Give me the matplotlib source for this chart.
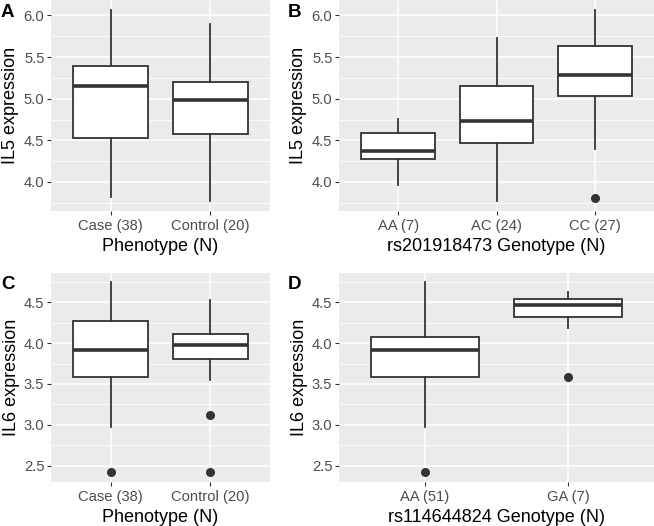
import matplotlib
matplotlib.use("Agg")
import matplotlib.pyplot as plt
from matplotlib.ticker import MultipleLocator

plt.rcParams['font.family'] = ['Liberation Sans', 'DejaVu Sans']

# panel A: IL5 by phenotype
a_groups = ["Case (38)", "Control (20)"]
a_whislo = [3.82, 3.77]
a_q1 = [4.53, 4.57]
a_med = [5.15, 4.99]
a_q3 = [5.39, 5.20]
a_whishi = [6.07, 5.90]
a_fliers = [[], []]

# panel B: IL5 by rs201918473 genotype
b_groups = ["AA (7)", "AC (24)", "CC (27)"]
b_whislo = [3.96, 3.77, 4.40]
b_q1 = [4.28, 4.465, 5.03]
b_med = [4.37, 4.735, 5.28]
b_q3 = [4.59, 5.15, 5.635]
b_whishi = [4.76, 5.73, 6.07]
b_fliers = [[], [], [3.81]]

# panel C: IL6 by phenotype
c_groups = ["Case (38)", "Control (20)"]
c_whislo = [2.975, 3.545]
c_q1 = [3.59, 3.80]
c_med = [3.915, 3.975]
c_q3 = [4.27, 4.11]
c_whishi = [4.745, 4.53]
c_fliers = [[2.42], [3.12, 2.42]]

# panel D: IL6 by rs114644824 genotype
d_groups = ["AA (51)", "GA (7)"]
d_whislo = [2.975, 4.18]
d_q1 = [3.59, 4.325]
d_med = [3.915, 4.47]
d_q3 = [4.075, 4.54]
d_whishi = [4.745, 4.63]
d_fliers = [[2.42], [3.59]]

panels = [
    ("A", a_groups, a_whislo, a_q1, a_med, a_q3, a_whishi, a_fliers, "IL5 expression", "Phenotype (N)"),
    ("B", b_groups, b_whislo, b_q1, b_med, b_q3, b_whishi, b_fliers, "IL5 expression", "rs201918473 Genotype (N)"),
    ("C", c_groups, c_whislo, c_q1, c_med, c_q3, c_whishi, c_fliers, "IL6 expression", "Phenotype (N)"),
    ("D", d_groups, d_whislo, d_q1, d_med, d_q3, d_whishi, d_fliers, "IL6 expression", "rs114644824 Genotype (N)"),
]

W, H = 654, 526
fig = plt.figure(figsize=(W / 100, H / 100), dpi=100)

# axes boxes in pixels: left, top, right, bottom
boxes = [(51, 0, 270, 210.7), (339, 0, 654, 210.7),
         (51, 272.7, 270, 481.7), (339, 272.7, 654, 481.7)]
label_pos = [(1, 4), (288, 4), (1, 276), (288, 276)]

dark = "#333333"

for (lab, groups, lo, q1, med, q3, hi, fl, ylab, xlab), (l, t, r, b), (lx, ly) in zip(panels, boxes, label_pos):
    ax = fig.add_axes([l / W, 1 - b / H, (r - l) / W, (b - t) / H])
    stats = []
    for i in range(len(groups)):
        stats.append(dict(whislo=lo[i], q1=q1[i], med=med[i], q3=q3[i], whishi=hi[i], fliers=fl[i]))
    pos = list(range(1, len(groups) + 1))
    ax.bxp(stats, positions=pos, widths=0.75, patch_artist=True, showcaps=False,
           boxprops=dict(facecolor="white", edgecolor=dark, linewidth=1.3),
           medianprops=dict(color=dark, linewidth=2.6, solid_capstyle="butt"),
           whiskerprops=dict(color=dark, linewidth=1.3),
           flierprops=dict(marker="o", markerfacecolor=dark, markeredgecolor=dark, markersize=5.5),
           zorder=3)
    ax.margins(y=0.05)
    ax.set_xlim(0.4, len(groups) + 0.6)
    ax.set_xticks(pos)
    ax.set_xticklabels(groups)
    ax.yaxis.set_major_locator(MultipleLocator(0.5))
    ax.yaxis.set_minor_locator(MultipleLocator(0.25))
    ax.yaxis.set_major_formatter(plt.FormatStrFormatter("%.1f"))
    ax.set_facecolor("#EBEBEB")
    for s in ax.spines.values():
        s.set_visible(False)
    ax.grid(True, which="major", color="white", linewidth=1.1, zorder=0)
    ax.grid(True, which="minor", axis="y", color="white", linewidth=0.55, zorder=0)
    ax.set_axisbelow(True)
    ax.tick_params(axis="both", which="major", length=2.8, width=0.8, color=dark,
                   labelsize=10.6, labelcolor="#4D4D4D", pad=2)
    ax.tick_params(axis="x", which="major", pad=3)
    ax.tick_params(axis="y", which="minor", length=0)
    ax.set_ylabel(ylab, fontsize=13, labelpad=3)
    ax.set_xlabel(xlab, fontsize=13, labelpad=3.5)
    fig.text(lx / W, 1 - ly / H, lab, fontsize=13.5, fontweight="bold", ha="left", va="top")

fig.savefig("out.png", dpi=100)
